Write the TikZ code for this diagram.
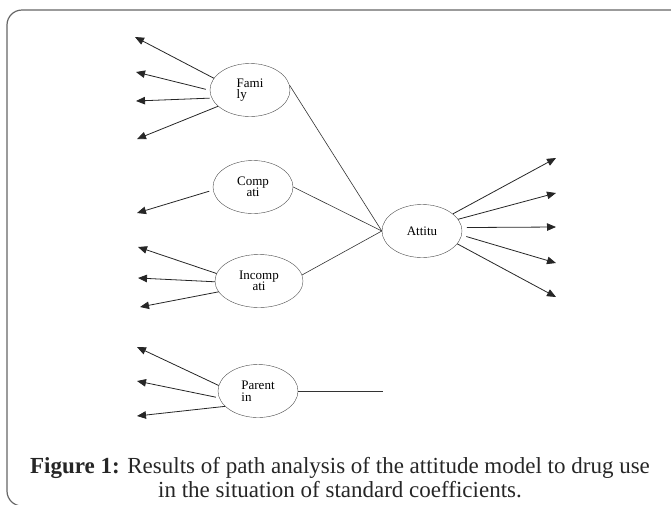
\documentclass[tikz,border=0pt]{standalone}
\usepackage{fontspec}
\setmainfont{Liberation Serif}
\usetikzlibrary{shapes.geometric,arrows.meta}

\begin{document}
\begin{tikzpicture}[x=1pt,y=-1pt,
    latent/.style={draw=black!70, ellipse, minimum width=80pt, minimum height=53pt, inner sep=0pt, font=\fontsize{13}{11.5}\selectfont},
    effect/.style={-{Triangle[length=9pt,width=7.5pt]}, black!85, thick},
    path/.style={black!80, semithick}]
    \useasboundingbox (0,0) rectangle (671,504);

    % Frame
    \draw[black!60, line width=1.2pt, rounded corners=15pt] (690,10) -- (7,10) -- (7,506) -- (690,506);

    % Exogenous variables
    \node[latent, align=left] (fam) at (250,90) {Fami\\ly};
    \node[latent, align=center] (comp) at (253,187) {Comp\\ati};
    \node[latent, minimum width=88pt, align=center] (incomp) at (259,281) {Incomp\\ati};
    \node[latent, align=left] (par) at (258,391) {Parent\\in};

    % Endogenous variable
    \node[latent] (att) at (422,231) {Attitu};

    % Free ends of the arrows
    \coordinate (f1) at (135,37);
    \coordinate (f2) at (136,72);
    \coordinate (f3) at (136,101);
    \coordinate (f4) at (137,139);
    \coordinate (c1) at (137,213);
    \coordinate (i1) at (138,247);
    \coordinate (i2) at (138,278);
    \coordinate (i3) at (140,307);
    \coordinate (p1) at (137,347);
    \coordinate (p2) at (137,381);
    \coordinate (p3) at (137,416);
    \coordinate (pe) at (383,391);
    \coordinate (a1) at (556,158);
    \coordinate (a2) at (556,193);
    \coordinate (a3) at (556,227);
    \coordinate (a4) at (556,263);
    \coordinate (a5) at (556,297);

    % Indicator arrows
    \draw[effect] (fam.162) -- (f1);
    \draw[effect] ([xshift=-4pt]fam.179) -- (f2);
    \draw[effect] ([xshift=-2pt]fam.192) -- (f3);
    \draw[effect] (fam.207) -- (f4);
    \draw[effect] ([xshift=-4pt]comp.186) -- (c1);
    \draw[effect] (incomp.170) -- (i1);
    \draw[effect] (incomp.181) -- (i2);
    \draw[effect] (incomp.195) -- (i3);
    \draw[effect] (par.172) -- (p1);
    \draw[effect] ([xshift=-3pt]par.189) -- (p2);
    \draw[effect] (par.205) -- (p3);
    \draw[effect] (att.29) -- (a1);
    \draw[effect] (att.18) -- (a2);
    \draw[effect] ([xshift=5pt]att.5) -- (a3);
    \draw[effect] ([xshift=5pt]att.-8) -- (a4);
    \draw[effect] (att.-20) -- (a5);

    % Paths to attitude
    \draw[path] (fam.7) -- (att.west);
    \draw[path] (comp.east) -- (att.west);
    \draw[path] (incomp.8) -- (att.west);
    \draw[path] (par.east) -- (pe);

    % Caption
    \node[black!85, align=center, font=\fontsize{23}{24}\selectfont] (cap) at (340,478)
        {\textbf{Figure 1:} Results of path analysis of the attitude model to drug use\\in the situation of standard coefficients.};
\end{tikzpicture}
\end{document}
